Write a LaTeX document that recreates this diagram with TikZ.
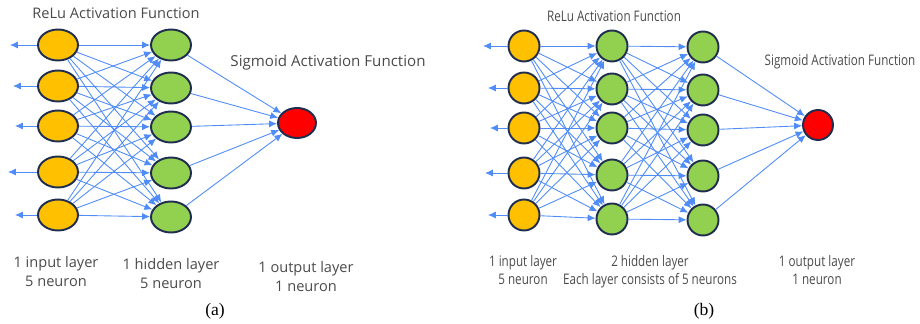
\documentclass[tikz,border=0pt]{standalone}
\usepackage{fontspec}
\setmainfont{Open Sans}
\newfontfamily\narrowfont[FakeStretch=0.8]{Open Sans}
\newfontfamily\capfont{Liberation Serif}
\usepackage{tikz}
\usetikzlibrary{arrows.meta,shapes.geometric}

\definecolor{inyellow}{HTML}{FFC000}
\definecolor{hidgreen}{HTML}{92D050}
\definecolor{outred}{HTML}{FF0000}
\definecolor{rimblue}{HTML}{1F2D4F}
\definecolor{wireblue}{HTML}{4F8CF7}
\definecolor{txtgray}{HTML}{4A4A4A}

\begin{document}
\begin{tikzpicture}[x=0.02cm,y=-0.02cm,
    oval/.style={ellipse,draw=rimblue,line width=1.1pt,inner sep=0pt,minimum width=0.8cm,minimum height=0.62cm},
    ball/.style={circle,draw=rimblue,line width=1.1pt,inner sep=0pt,minimum size=0.62cm},
    wire/.style={draw=wireblue,line width=0.5pt,-{Latex[length=4.5pt,width=4pt]}},
    note/.style={text=txtgray,align=center,font=\fontsize{8.3}{10.8}\selectfont},
    notenarrow/.style={text=txtgray,align=center,font=\narrowfont\fontsize{8.3}{10.3}\selectfont},
    caption/.style={font=\capfont\fontsize{10}{12}\selectfont}]

    \useasboundingbox (0,0) rectangle (920,324);

    % (a) one hidden layer
    \foreach \y/\e [count=\k] in {45/10,86/13,126/15,172/8,215/15} {
        \node[oval,fill=inyellow] (ai\k) at (58,\y) {};
        \coordinate (al\k) at (\e,\y);
        \draw[wire] (ai\k) -- (al\k);
    }
    \foreach \y [count=\k] in {45,88,127,173,217}
        \node[oval,fill=hidgreen] (ah\k) at (171,\y) {};
    \node[oval,fill=outred,minimum width=0.76cm,minimum height=0.6cm] (ao) at (297,123) {};

    \foreach \i in {1,...,5}
        \foreach \j in {1,...,5}
            \draw[wire] (ai\i) -- (ah\j);
    \foreach \j in {1,...,5}
        \draw[wire] (ah\j) -- (ao);

    \node[note] (atitle) at (116,13) {ReLu Activation Function};
    \node[note,font=\fontsize{8.6}{10.8}\selectfont] (asig) at (328,63) {Sigmoid Activation Function};
    \node[note] (ainlbl) at (56,272) {1 input layer\\5 neuron};
    \node[note] (ahidlbl) at (171,274) {1 hidden layer\\5 neuron};
    \node[note] (aoutlbl) at (306,277) {1 output layer\\1 neuron};
    \node[caption] (acap) at (215,311) {(a)};

    % (b) two hidden layers
    \foreach \y/\e [count=\k] in {46/483,88/488,128/490,173/485,215/488} {
        \node[ball,fill=inyellow] (bi\k) at (524,\y) {};
        \coordinate (bl\k) at (\e,\y);
        \draw[wire] (bi\k) -- (bl\k);
    }
    \foreach \y [count=\k] in {46,89,128,175,219}
        \node[ball,fill=hidgreen] (bh\k) at (612,\y) {};
    \foreach \y [count=\k] in {47,90,130,176,220}
        \node[ball,fill=hidgreen] (bg\k) at (703,\y) {};
    \node[ball,fill=outred,minimum size=0.6cm] (bo) at (818,125) {};

    \foreach \i in {1,...,5}
        \foreach \j in {1,...,5} {
            \draw[wire] (bi\i) -- (bh\j);
            \draw[wire] (bh\i) -- (bg\j);
        }
    \foreach \j in {1,...,5}
        \draw[wire] (bg\j) -- (bo);

    \node[notenarrow] (btitle) at (614,16) {ReLu Activation Function};
    \node[notenarrow] (bsig) at (840,62) {Sigmoid Activation Function};
    \node[notenarrow] (binlbl) at (523,270) {1 input layer\\5 neuron};
    \node[notenarrow] (bhidlbl) at (650,272) {2 hidden layer\\Each layer consists of 5 neurons};
    \node[notenarrow] (boutlbl) at (817,270) {1 output layer\\1 neuron};
    \node[caption] (bcap) at (704,311) {(b)};

\end{tikzpicture}
\end{document}
